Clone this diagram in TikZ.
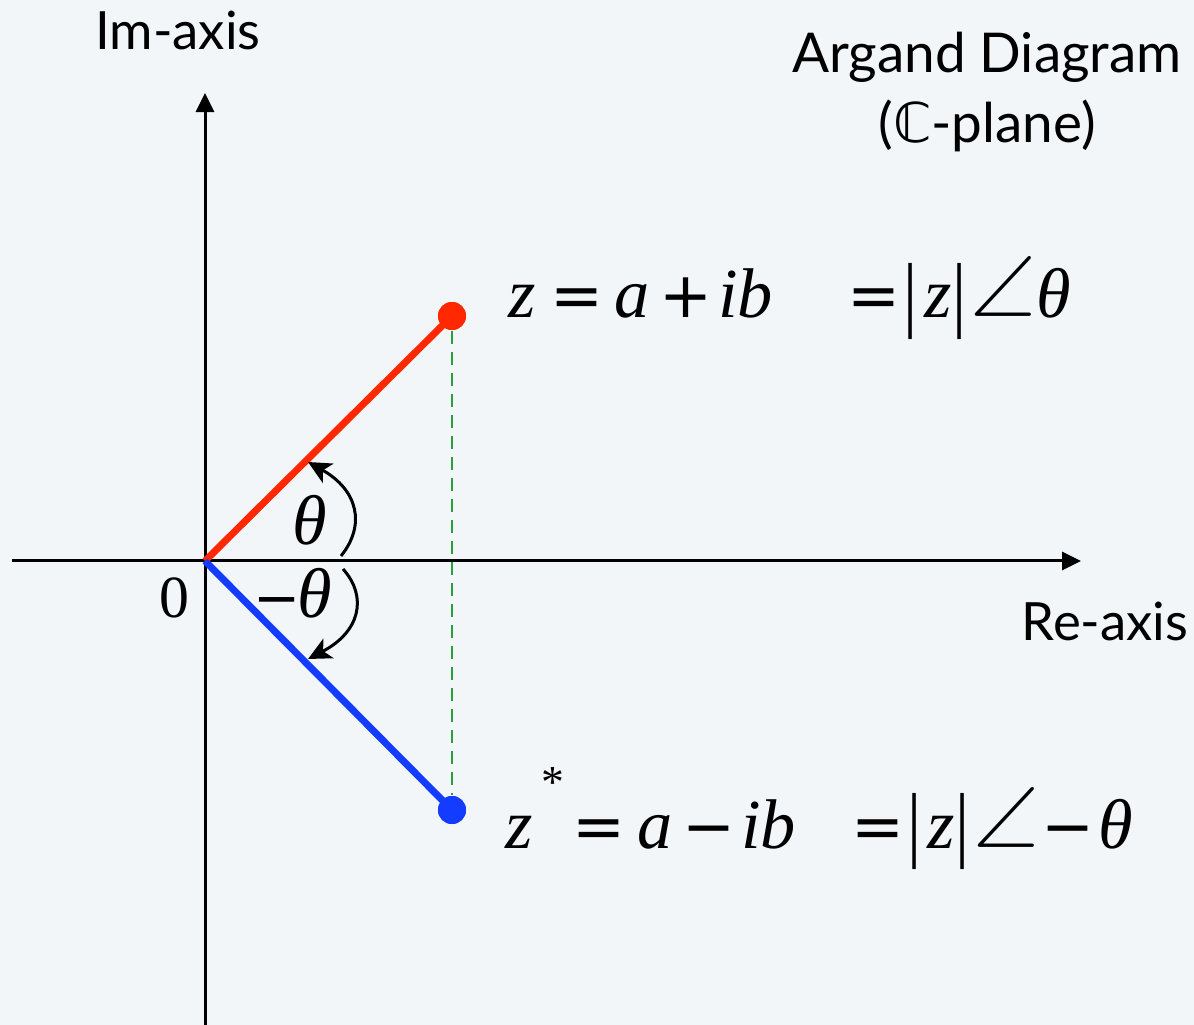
\documentclass[tikz,border=0pt]{standalone}
\usepackage{fontspec}
\usepackage{graphicx}
\setmainfont{Liberation Serif}
\newfontfamily\sansf{Lato}
\newfontfamily\djv{DejaVu Sans}
\newfontfamily\lmm{Latin Modern Math}
\usetikzlibrary{arrows.meta}
\definecolor{bg}{RGB}{242,246,249}
\definecolor{zred}{RGB}{255,40,0}
\definecolor{zblue}{RGB}{20,60,255}
\definecolor{zgreen}{RGB}{40,160,60}
\newcommand{\mi}[1]{\textit{#1}}
\newcommand{\op}[1]{{\djv\fontsize{18}{18}\selectfont #1}}
\newcommand{\vbar}{\raisebox{-0.05em}{\scalebox{1}[1.19]{|}}}
\begin{document}
\begin{tikzpicture}[x=0.01cm,y=-0.01cm,
  axis/.style={line width=0.3mm,-{Triangle[length=1.9mm,width=1.8mm]}},
  vec/.style={line width=0.7mm},
  dot/.style={circle,inner sep=0pt,minimum size=2.8mm},
  lab/.style={font=\sansf\fontsize{15}{15}\selectfont,inner sep=0pt,anchor=base},
  ttl/.style={font=\sansf\fontsize{15.6}{15.6}\selectfont,inner sep=0pt,anchor=base},
  eq/.style={font=\fontsize{20}{20}\selectfont,inner sep=0pt,anchor=base west},
  angsym/.style={font=\lmm\fontsize{24}{24}\selectfont,inner sep=0pt,anchor=base west},
  angarrow/.style={line width=0.3mm,-{Stealth[length=2.3mm,width=2.2mm,inset=0.6mm]}},
  proj/.style={zgreen,line width=0.15mm,dash pattern=on 1.3mm off 0.8mm}]
\fill[bg] (0,0) rectangle (1194,1025);
\useasboundingbox (0,0) rectangle (1194,1025);
% coordinates
\coordinate (O) at (205,561);
\coordinate (imB) at (205,1025);
\coordinate (imT) at (205,93);
\coordinate (reL) at (12,561);
\coordinate (reR) at (1081,561);
\node[dot,fill=zred] (z) at (452,316) {};
\node[dot,fill=zblue] (zc) at (452,810) {};
% projection
\draw[proj] (z.south) -- (zc.north);
% axes
\draw[axis] (imB) -- (imT);
\draw[axis] (reL) -- (reR);
% vectors
\draw[vec,zred] (O) -- (z.center);
\draw[vec,zblue] (O) -- (zc.center);
\node[dot,fill=zred] at (z) {};
\node[dot,fill=zblue] at (zc) {};
% angle arcs
\coordinate (a1s) at (341,556);
\coordinate (a1e) at (308,462);
\coordinate (a2s) at (343,569);
\coordinate (a2e) at (308,659);
\draw[angarrow] (a1s) .. controls (366,525) and (358,490) .. (a1e);
\draw[angarrow] (a2s) .. controls (368,597) and (360,632) .. (a2e);
% labels
\node[lab] (im) at (178,50) {Im-axis};
\node[lab] (re) at (1105,640) {Re-axis};
\node[ttl] (t1) at (987,73) {Argand Diagram};
\node[ttl] (t2) at (987,143) {({\djv ℂ}-plane)};
\node[eq,font=\fontsize{17}{17}\selectfont,anchor=base] (zero) at (174,617) {0};
\node[eq] (th) at (292,545) {\mi{θ}};
\node[eq] (mth) at (253,617) {{\djv\fontsize{16}{16}\selectfont −}\hspace{-0.3mm}\mi{θ}};
% z = a + ib = |z| angle theta
\node[eq] (eq1l) at (508,318) {\mi{z}\hspace{1.4mm}\op{=}\hspace{1.1mm}\mi{a}\hspace{1mm}\op{+}\hspace{0.6mm}\mi{ib}};
\node[eq] (eq1r) at (847,318) {\op{=}\hspace{0.3mm}\vbar\hspace{0.7mm}\mi{z}\vbar};
\node[angsym] (ang1) at (970,318) {∠};
\node[eq] (eq1t) at (1036,318) {\mi{θ}};
% z* = a - ib = |z| angle -theta
\node[eq] (eq2l) at (505,848) {\mi{z}\hspace{0.8mm}\raisebox{5mm}{\fontsize{13}{13}\selectfont *}\hspace{0.9mm}\op{=}\hspace{1.2mm}\mi{a}\hspace{0.9mm}\op{−}\hspace{0.6mm}\mi{ib}};
\node[eq] (eq2r) at (851,848) {\op{=}\hspace{0.3mm}\vbar\hspace{0.6mm}\mi{z}\vbar};
\node[angsym] (ang2) at (973,848) {∠};
\node[eq] (eq2t) at (1041,848) {\op{−}\hspace{0.4mm}\mi{θ}};
\end{tikzpicture}
\end{document}
